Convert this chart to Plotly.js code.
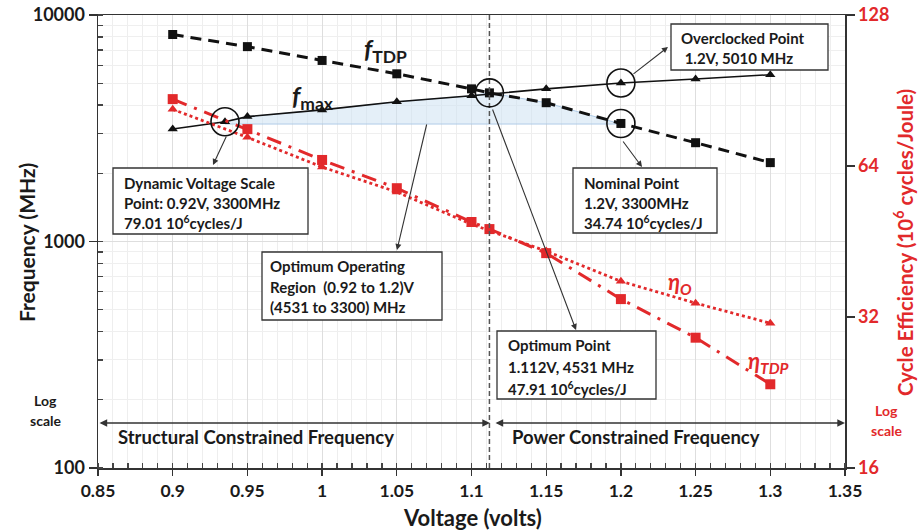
<!DOCTYPE html>
<html>
<head>
<meta charset="utf-8">
<script src="https://cdn.plot.ly/plotly-3.0.1.min.js"></script>
<style>html,body{margin:0;padding:0;background:#fff;}#chart{width:920px;height:531px;}</style>
</head>
<body>
<div id="chart"></div>
<script>
// ---- Data ----
const fTdpVolts = [0.9, 0.95, 1.0, 1.05, 1.1, 1.112, 1.15, 1.2, 1.25, 1.3];
const fTdpMHz   = [8200, 7250, 6300, 5500, 4720, 4531, 4100, 3320, 2730, 2230];
const fMaxVolts = [0.9, 0.935, 0.95, 1.0, 1.05, 1.1, 1.15, 1.2, 1.25, 1.3];
const fMaxMHz   = [3140, 3380, 3560, 3810, 4140, 4400, 4720, 5010, 5220, 5450];
const etaTdpVolts = [0.9, 0.95, 1.0, 1.05, 1.1, 1.112, 1.15, 1.2, 1.25, 1.3];
const etaTdp      = [87, 75.8, 65.8, 57.8, 49.5, 47.91, 42.9, 34.74, 29.1, 23.5];
const etaOVolts = [0.9, 0.95, 1.0, 1.05, 1.1, 1.15, 1.2, 1.25, 1.3];
const etaO      = [83, 73, 63.7, 56.8, 49, 43.3, 37.7, 34.1, 31.1];
const optVolt = 1.112, optMHz = 4531;
const dvsVolt = 0.935, dvsMHz = 3380, regionFloorMHz = 3300;
const nomVolt = 1.2, nomMHz = 3320, ocVolt = 1.2, ocMHz = 5010;
const xTickVals = [0.85, 0.9, 0.95, 1, 1.05, 1.1, 1.15, 1.2, 1.25, 1.3, 1.35];
const xTickText = ['0.85','0.9','0.95','1','1.05','1.1','1.15','1.2','1.25','1.3','1.35'];
const yTickVals = [100, 1000, 10000];
const yTickText = ['100', '1000', '10000'];
const y2TickVals = [16, 32, 64, 128];
const y2TickText = ['16', '32', '64', '128'];

// ---- Layout helpers (pixel -> paper) ----
const L = 98, R = 845, T = 15, B = 468;
const PX = p => (p - L) / (R - L);
const PY = p => (B - p) / (B - T);
const RED = '#e2292b';
const FONT = 'Lato, "Open Sans", sans-serif';
const DARK = '#1a1a1a';

// optimum region polygon from data
const regX = [], regY = [];
fMaxVolts.forEach((v, i) => { if (v >= dvsVolt && v < optVolt) { regX.push(v); regY.push(fMaxMHz[i]); } });
regX.push(optVolt); regY.push(optMHz);
fTdpVolts.forEach((v, i) => { if (v > optVolt && v <= nomVolt) { regX.push(v); regY.push(fTdpMHz[i]); } });
regX.push(nomVolt, dvsVolt, dvsVolt); regY.push(regionFloorMHz, regionFloorMHz, dvsMHz);

const traces = [
  {x: regX, y: regY, mode: 'lines', fill: 'toself', fillcolor: 'rgba(205,225,242,0.55)',
   line: {color: 'rgba(170,200,230,0.9)', width: 1}, hoverinfo: 'skip'},
  {x: fTdpVolts, y: fTdpMHz, mode: 'lines+markers',
   line: {color: '#111', width: 3, dash: '11px,7px'}, marker: {symbol: 'square', size: 9, color: '#111'}},
  {x: fMaxVolts, y: fMaxMHz, mode: 'lines+markers',
   line: {color: '#111', width: 1.6}, marker: {symbol: 'triangle-up', size: 9, color: '#111'}},
  {x: etaTdpVolts, y: etaTdp, yaxis: 'y2', mode: 'lines+markers',
   line: {color: RED, width: 3, dash: '15px,8px,3px,8px'}, marker: {symbol: 'square', size: 10, color: RED}},
  {x: etaOVolts, y: etaO, yaxis: 'y2', mode: 'lines+markers',
   line: {color: RED, width: 2.8, dash: 'dot'}, marker: {symbol: 'triangle-up', size: 9, color: RED}}
];

const annotations = [];
function txt(text, px, py, opts) {
  annotations.push(Object.assign({xref: 'paper', yref: 'paper', x: PX(px), y: PY(py), text: text,
    showarrow: false, xanchor: 'left', yanchor: 'middle',
    font: {family: FONT, size: 15, color: DARK, weight: 'bold'}}, opts || {}));
}
function arrow(hx, hy, tx, ty, opts) {
  annotations.push(Object.assign({xref: 'paper', yref: 'paper', x: PX(hx), y: PY(hy), text: '',
    showarrow: true, ax: tx - hx, ay: ty - hy, arrowhead: 2, arrowsize: 1.1, arrowwidth: 1.1, arrowcolor: '#333'}, opts || {}));
}
// axis titles
txt('Frequency (MHz)', 26, 243, {xanchor: 'center', textangle: -90, font: {family: FONT, size: 21, color: DARK, weight: 'bold'}});
txt('Voltage (volts)', 472, 517, {xanchor: 'center', font: {family: FONT, size: 22, color: DARK, weight: 'bold'}});
txt('Cycle Efficiency (10<sup>6</sup> cycles/Joule)', 903, 243, {xanchor: 'center', textangle: -90, font: {family: FONT, size: 20.5, color: RED, weight: 'bold'}});
// log scale notes
txt('Log', 45, 400, {xanchor: 'center', font: {family: FONT, size: 14, color: DARK, weight: 'bold'}});
txt('scale', 45, 420, {xanchor: 'center', font: {family: FONT, size: 14, color: DARK, weight: 'bold'}});
txt('Log', 886, 410, {xanchor: 'center', font: {family: FONT, size: 14, color: RED, weight: 'bold'}});
txt('scale', 886, 430, {xanchor: 'center', font: {family: FONT, size: 14, color: RED, weight: 'bold'}});
// series labels
txt('<i>f</i><sub>TDP</sub>', 362, 50, {font: {family: FONT, size: 25, color: DARK, weight: 'bold'}});
txt('<i>f</i><sub>max</sub>', 290, 97, {font: {family: FONT, size: 25, color: DARK, weight: 'bold'}});
txt('<i>η<sub>O</sub></i>', 666, 283, {font: {family: FONT, size: 22, color: RED, weight: 'bold'}});
txt('<i>η<sub>TDP</sub></i>', 746, 362, {font: {family: FONT, size: 22, color: RED, weight: 'bold'}});
// region labels
txt('Structural Constrained Frequency', 116, 437, {font: {family: FONT, size: 18.5, color: DARK, weight: 'bold'}});
txt('Power Constrained Frequency', 510, 437, {font: {family: FONT, size: 18.5, color: DARK, weight: 'bold'}});
arrow(490, 423, 98, 423, {arrowside: 'end+start', arrowwidth: 1.4});
arrow(845, 423, 494, 423, {arrowside: 'end+start', arrowwidth: 1.4});
// boxes text
txt('Dynamic Voltage Scale', 122, 183); txt('Point: 0.92V, 3300MHz', 122, 203); txt('79.01 10<sup>6</sup>cycles/J', 122, 222);
txt('Optimum Operating', 268, 266); txt('Region  (0.92 to 1.2)V', 268, 287); txt('(4531 to 3300) MHz', 268, 307);
txt('Optimum Point', 506, 345); txt('1.112V, 4531 MHz', 506, 367); txt('47.91 10<sup>6</sup>cycles/J', 506, 388);
txt('Nominal Point', 582, 183); txt('1.2V, 3300MHz', 582, 203); txt('34.74 10<sup>6</sup>cycles/J', 582, 222);
txt('Overclocked Point', 679, 38); txt(' 1.2V, 5010 MHz', 679, 58);
// pointer arrows
arrow(213, 165, 227, 135);
arrow(397, 250, 427, 123);
arrow(576, 330, 492, 108);
arrow(642, 167, 622, 140);
arrow(668, 47, 632, 75);

function box(x0, y0, x1, y1) {
  return {type: 'rect', xref: 'paper', yref: 'paper', x0: PX(x0), x1: PX(x1), y0: PY(y0), y1: PY(y1),
    line: {color: '#333', width: 1.3}, fillcolor: '#fff', layer: 'above'};
}
function circ(v, mhz) {
  return {type: 'circle', xref: 'x', yref: 'paper', xsizemode: 'pixel', ysizemode: 'pixel',
    xanchor: v, yanchor: (Math.log10(mhz) - 2) / 2, x0: -14, x1: 14, y0: -14, y1: 14,
    line: {color: '#111', width: 1.6}, fillcolor: 'rgba(0,0,0,0)', layer: 'above'};
}
const shapes = [
  {type: 'line', xref: 'x', yref: 'paper', x0: optVolt, x1: optVolt, y0: 0, y1: 1,
   line: {color: '#555', width: 1.5, dash: '5px,3px'}, layer: 'above'},
  box(113, 168, 308, 234), box(262, 252, 442, 320), box(497, 331, 656, 399),
  box(573, 168, 717, 233), box(671, 24, 828, 70),
  circ(dvsVolt, dvsMHz), circ(optVolt, optMHz), circ(ocVolt, ocMHz), circ(nomVolt, nomMHz)
];

const layout = {
  width: 920, height: 531,
  margin: {l: L, r: 920 - R, t: T, b: 531 - B},
  paper_bgcolor: '#fff', plot_bgcolor: '#fff',
  showlegend: false,
  font: {family: FONT, color: DARK},
  xaxis: {range: [0.85, 1.35], tickvals: xTickVals, ticktext: xTickText,
    showline: true, linecolor: '#333', linewidth: 1.5, mirror: true,
    ticks: 'outside', ticklen: 6, tickcolor: '#333', tickwidth: 1.3,
    showgrid: true, gridcolor: '#dedede', gridwidth: 1,
    minor: {dtick: 0.01, tick0: 0.85, ticks: 'inside', ticklen: 5, tickcolor: '#444', showgrid: true, gridcolor: '#eeeeee'},
    tickfont: {family: FONT, size: 17.5, color: DARK, weight: 'bold'}, zeroline: false},
  yaxis: {type: 'log', range: [2, 4], tickvals: yTickVals, ticktext: yTickText,
    showline: true, linecolor: '#333', linewidth: 1.5,
    ticks: 'outside', ticklen: 8, tickcolor: '#333', tickwidth: 1.3,
    showgrid: true, gridcolor: '#dedede',
    minor: {dtick: 'D1', ticks: 'inside', ticklen: 5, tickcolor: '#444', showgrid: true, gridcolor: '#efefef'},
    tickfont: {family: FONT, size: 18, color: DARK, weight: 'bold'}, zeroline: false},
  yaxis2: {type: 'log', overlaying: 'y', side: 'right', range: [Math.log10(16), Math.log10(128)],
    tickvals: y2TickVals, ticktext: y2TickText,
    showline: true, linecolor: '#333', linewidth: 1.5,
    ticks: 'outside', ticklen: 8, tickcolor: '#333', tickwidth: 1.3, showgrid: false,
    tickfont: {family: FONT, size: 18, color: RED, weight: 'bold'}, zeroline: false},
  annotations: annotations,
  shapes: shapes
};

Plotly.newPlot('chart', traces, layout, {displayModeBar: false, staticPlot: true});
</script>
</body>
</html>
